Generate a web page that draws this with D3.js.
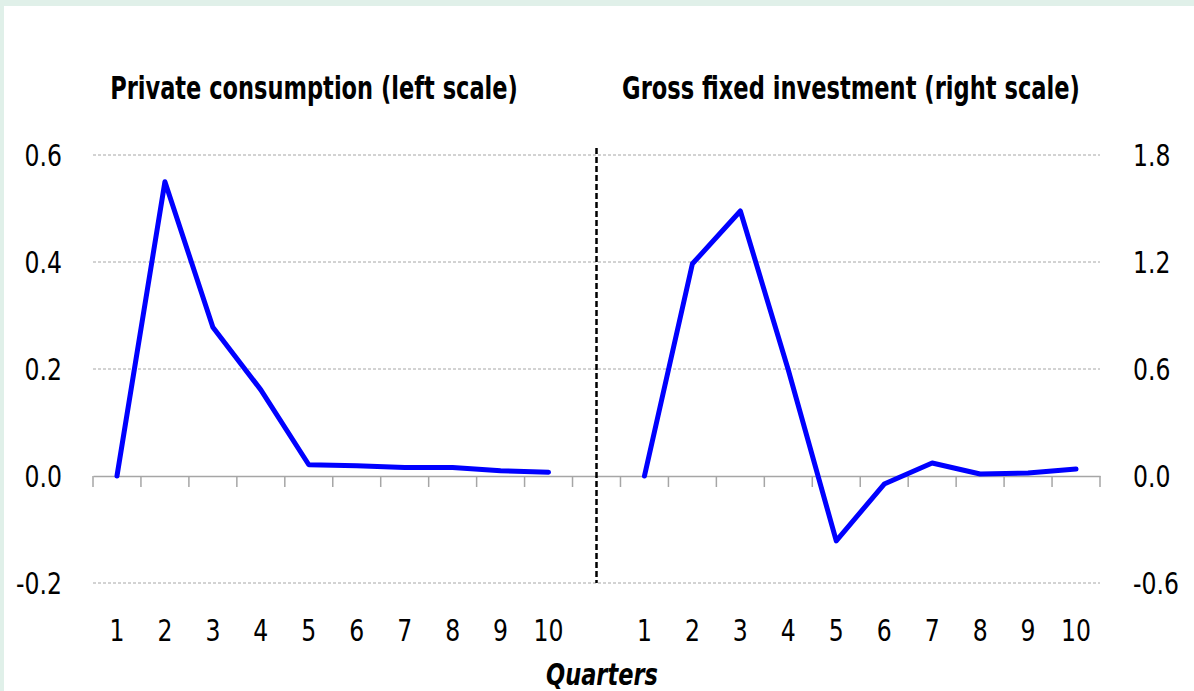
<!DOCTYPE html>
<html>
<head>
<meta charset="utf-8">
<script src="https://cdn.jsdelivr.net/npm/d3@7"></script>
<style>
  html, body { margin: 0; padding: 0; background: #e0f0e9; }
  svg { display: block; }
  text { font-family: "DejaVu Sans", sans-serif; fill: #000; }
</style>
</head>
<body>
<svg id="chart" width="1194" height="691"></svg>
<script>
  "use strict";

  // Data //////////////////////////////////////////////////
  var quarters = ["1", "2", "3", "4", "5", "6", "7", "8", "9", "10"];
  var consumption = [0, 0.55, 0.278, 0.161, 0.021, 0.019, 0.016, 0.016, 0.010, 0.007];
  var investment = [0, 1.19, 1.486, 0.594, -0.364, -0.045, 0.073, 0.011, 0.017, 0.039];
  var leftTicks = [-0.2, 0.0, 0.2, 0.4, 0.6];
  var rightTicks = [-0.6, 0.0, 0.6, 1.2, 1.8];
  var titles = ["Private consumption (left scale)", "Gross fixed investment (right scale)"];
  //////////////////////////////////////////////////////////

  (function() {

    var svg = d3.select("#chart");
    var squeeze = 0.76; // fake a condensed face

    // white panel inside the green frame
    svg.append("rect")
        .attr("x", 4).attr("y", 6)
        .attr("width", 1190).attr("height", 685)
        .attr("fill", "#fff");

    var plotLeft = 93, plotRight = 1100, plotTop = 155, plotBottom = 583;

    // 21 slots: 10 quarters, a gap, 10 quarters
    var slots = quarters.map(function(q) { return "a" + q; })
        .concat(["gap"])
        .concat(quarters.map(function(q) { return "b" + q; }));

    var x = d3.scaleBand().domain(slots).range([plotLeft, plotRight]).padding(0);
    var yL = d3.scaleLinear().domain([-0.2, 0.6]).range([plotBottom, plotTop]);
    var yR = d3.scaleLinear().domain([-0.6, 1.8]).range([plotBottom, plotTop]);

    var cx = function(s) { return x(s) + x.bandwidth() / 2; };

    // squeezed label helper
    var label = function(sel, xf, yf, anchor, tf) {
      var g = sel.enter().append("g")
          .attr("transform", function(d) {
            return "translate(" + xf(d) + "," + yf(d) + ") scale(" + squeeze + ",1)";
          });
      g.append("text")
          .attr("text-anchor", anchor)
          .attr("font-size", 31)
          .text(tf);
    };

    // bold text squeezed to a given width
    var fitText = function(txt, cxPos, y, size, width, italic) {
      var g = svg.append("g");
      var t = g.append("text")
          .attr("text-anchor", "middle")
          .attr("font-size", size)
          .attr("font-weight", "bold")
          .attr("font-style", italic ? "italic" : "normal")
          .text(txt);
      var w = t.node().getComputedTextLength();
      g.attr("transform", "translate(" + cxPos + "," + y + ") scale(" + (width / w) + ",1)");
    };

    // Gridlines
    svg.append("g").selectAll("line")
        .data(leftTicks.filter(function(d) { return d !== 0; }))
        .enter().append("line")
        .attr("x1", plotLeft).attr("x2", plotRight)
        .attr("y1", function(d) { return yL(d); })
        .attr("y2", function(d) { return yL(d); })
        .attr("stroke", "#a6a6a6")
        .attr("stroke-width", 1)
        .attr("stroke-dasharray", "3,2");

    // Zero axis with tick marks between categories
    var xAxis = d3.axisBottom(x).tickSize(0).tickFormat("");
    svg.append("g")
        .attr("transform", "translate(0," + yL(0) + ")")
        .call(xAxis)
        .call(function(g) { g.select(".domain").attr("stroke", "#a6a6a6").attr("stroke-width", 1.5); });

    var bounds = slots.map(function(s) { return x(s); }).concat([plotRight]);
    svg.append("g").selectAll("line")
        .data(bounds)
        .enter().append("line")
        .attr("x1", function(d) { return d; }).attr("x2", function(d) { return d; })
        .attr("y1", yL(0)).attr("y2", yL(0) + 11)
        .attr("stroke", "#a6a6a6")
        .attr("stroke-width", 1.5);

    // Divider
    svg.append("line")
        .attr("x1", cx("gap")).attr("x2", cx("gap"))
        .attr("y1", 148).attr("y2", plotBottom)
        .attr("stroke", "#000")
        .attr("stroke-width", 2.5)
        .attr("stroke-dasharray", "6,3");

    // Left axis labels
    label(svg.append("g").selectAll("g").data(leftTicks),
        function() { return 62; },
        function(d) { return yL(d) + 11; },
        "end",
        function(d) { return d.toFixed(1); });

    // Right axis labels
    label(svg.append("g").selectAll("g").data(rightTicks),
        function() { return 1133; },
        function(d) { return yR(d) + 11; },
        "start",
        function(d) { return d.toFixed(1); });

    // X labels
    label(svg.append("g").selectAll("g").data(slots.filter(function(s) { return s !== "gap"; })),
        function(s) { return cx(s); },
        function() { return 641; },
        "middle",
        function(s) { return s.slice(1); });

    fitText("Quarters", 602, 685, 30, 112, true);

    // Titles
    fitText(titles[0], 314, 99, 32, 408, false);
    fitText(titles[1], 851, 99, 32, 458, false);

    // Lines
    var lineL = d3.line()
        .x(function(d, i) { return cx("a" + quarters[i]); })
        .y(function(d) { return yL(d); });
    var lineR = d3.line()
        .x(function(d, i) { return cx("b" + quarters[i]); })
        .y(function(d) { return yR(d); });

    svg.append("path")
        .datum(consumption)
        .attr("d", lineL)
        .attr("fill", "none")
        .attr("stroke", "#0000ff")
        .attr("stroke-width", 5)
        .attr("stroke-linejoin", "round")
        .attr("stroke-linecap", "round");

    svg.append("path")
        .datum(investment)
        .attr("d", lineR)
        .attr("fill", "none")
        .attr("stroke", "#0000ff")
        .attr("stroke-width", 5)
        .attr("stroke-linejoin", "round")
        .attr("stroke-linecap", "round");

  })();
</script>
</body>
</html>
